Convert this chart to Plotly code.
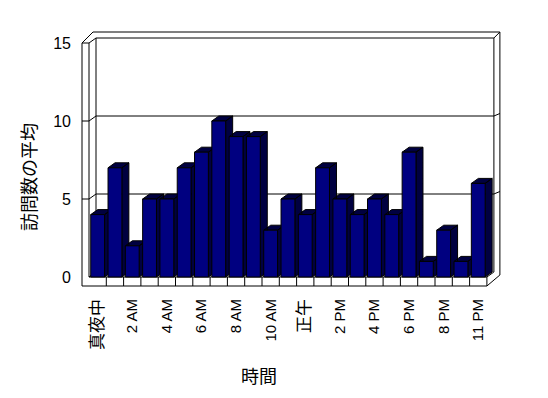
import plotly.graph_objects as go

# ---------------- data ----------------
hours = ["真夜中", "1 AM", "2 AM", "3 AM", "4 AM", "5 AM", "6 AM", "7 AM", "8 AM",
         "9 AM", "10 AM", "11 AM", "正午", "1 PM", "2 PM", "3 PM", "4 PM", "5 PM",
         "6 PM", "7 PM", "8 PM", "9 PM", "11 PM"]
visits = [4, 7, 2, 5, 5, 7, 8, 10, 9, 9, 3, 5, 4, 7, 5, 4, 5, 4, 8, 1, 3, 1, 6]
y_ticks = [0, 5, 10, 15]
x_title = "時間"
y_title = "訪問数の平均"

# ---------------- layout geometry ----------------
PAGE = 8                      # default body margin of the html page
W, H = 548 - PAGE, 398 - PAGE
L, T = 78 - PAGE, 28 - PAGE
plot_w, plot_h = 427, 262
R, B = W - L - plot_w, H - T - plot_h
PX_X = 17.3   # pixels per category
PX_Y = 15.6   # pixels per value unit
x_lo = -0.5 - 11 / PX_X
x_hi = x_lo + plot_w / PX_X
y_lo = -13 / PX_Y
y_hi = y_lo + plot_h / PX_Y

n = len(visits)
X0, X1 = -0.5, n - 0.5
Y0, Y1 = 0, y_ticks[-1]
DX, DY = 7 / PX_X, 5 / PX_Y          # depth offset
WX = 7 / PX_X                         # left wall thickness
FY = 9 / PX_Y                         # floor thickness
TX, TY = 6 / PX_X, 6 / PX_Y           # back wall thickness
BW = 0.8                              # bar width

FRONT = "#000080"
DEPTH = "#000040"

fig = go.Figure()

# ---------------- bars (3D look) ----------------
dx_, dy_ = [], []
fx, fy = [], []
for i, v in enumerate(visits):
    l, r = i - BW / 2, i + BW / 2
    dx_ += [r, r + DX, r + DX, r, r, None]
    dy_ += [0, DY, v + DY, v, 0, None]
    dx_ += [l, r, r + DX, l + DX, l, None]
    dy_ += [v, v, v + DY, v + DY, v, None]
    fx += [l, r, r, l, l, None]
    fy += [0, 0, v, v, 0, None]

fig.add_trace(go.Scatter(x=dx_, y=dy_, mode="lines", fill="toself",
                         fillcolor=DEPTH, line=dict(color="black", width=1),
                         hoverinfo="skip", showlegend=False))
fig.add_trace(go.Scatter(x=fx, y=fy, mode="lines", fill="toself",
                         fillcolor=FRONT, line=dict(color="black", width=1),
                         hoverinfo="skip", showlegend=False))

# ---------------- walls / floor ----------------
def P(pts):
    return "M " + " L ".join(f"{x},{y}" for x, y in pts)

shapes = []
line = dict(color="black", width=1)
outer = [(X0 - WX, Y0 - FY), (X0 - WX, Y1), (X0 - WX + 11 / PX_X, Y1 + DY + TY),
         (X1 + DX + TX, Y1 + DY + TY), (X1 + DX + TX, Y0 + 2 / PX_Y), (X1, Y0 - FY)]
shapes.append(dict(type="path", path=P(outer) + " Z", xref="x", yref="y",
                   fillcolor="white", line=line, layer="below"))
shapes.append(dict(type="path", path=P([(X0 + DX, Y0 + DY), (X0 + DX, Y1 + DY),
                                         (X1 + DX, Y1 + DY), (X1 + DX, Y0 + DY)]),
                   xref="x", yref="y", line=line, layer="below"))
shapes.append(dict(type="path", path=P([(X0, Y0), (X0, Y1), (X0 - WX, Y1)]),
                   xref="x", yref="y", line=line, layer="below"))
shapes.append(dict(type="path", path=P([(X0, Y1), (X0 + DX, Y1 + DY)]),
                   xref="x", yref="y", line=line, layer="below"))
shapes.append(dict(type="path", path=P([(X1 + DX, Y1 + DY), (X1 + DX + TX, Y1 + DY + TY)]),
                   xref="x", yref="y", line=line, layer="below"))
shapes.append(dict(type="path", path=P([(X0, Y0), (X0 + DX, Y0 + DY)]),
                   xref="x", yref="y", line=line, layer="below"))
shapes.append(dict(type="path", path=P([(X0, Y0), (X1, Y0), (X1, Y0 - FY)]),
                   xref="x", yref="y", line=line, layer="below"))
shapes.append(dict(type="path", path=P([(X1, Y0), (X1 + DX, Y0 + DY)]),
                   xref="x", yref="y", line=line, layer="below"))
for k in range(1, n):
    shapes.append(dict(type="line", x0=k - 0.5, x1=k - 0.5, y0=Y0 - FY, y1=Y0,
                       xref="x", yref="y", line=line, layer="below"))
for v in y_ticks[1:-1]:
    shapes.append(dict(type="path",
                       path=P([(X0 - WX, v), (X0, v), (X0 + DX, v + DY), (X1 + DX, v + DY),
                               (X1 + DX + TX, v + DY + 2.5 / PX_Y)]),
                       xref="x", yref="y", line=line, layer="below"))

# ---------------- ticks / titles ----------------
def lab(s):
    if any(ord(c) > 0x2E80 for c in s):
        return f'<span style="font-size:17px">{s}</span>'
    return s

tickvals = list(range(0, n, 2))
ticktext = [lab(hours[i]) for i in tickvals]

FONT = "Liberation Sans, Noto Sans CJK JP, sans-serif"
fig.update_layout(
    template="none",
    width=W, height=H,
    margin=dict(l=L, r=R, t=T, b=B, pad=0, autoexpand=False),
    paper_bgcolor="white", plot_bgcolor="white",
    shapes=shapes,
    font=dict(family=FONT, color="black"),
    xaxis=dict(range=[x_lo, x_hi], showgrid=False, zeroline=False, showline=False,
               automargin=False,
               tickmode="array", tickvals=tickvals, ticktext=ticktext,
               tickangle=-90, tickfont=dict(size=15, family=FONT), ticks="",
               ticklabelstandoff=5),
    yaxis=dict(range=[y_lo, y_hi], showgrid=False, zeroline=False, showline=False,
               automargin=False,
               tickmode="array", tickvals=y_ticks, ticktext=[str(v) for v in y_ticks],
               tickfont=dict(size=16, family=FONT), ticks="", ticklabelstandoff=6),
    annotations=[
        dict(text=y_title, xref="paper", yref="paper",
             x=(28 - 78) / plot_w, y=(290 - 177) / plot_h,
             textangle=-90, showarrow=False, xanchor="center", yanchor="middle",
             font=dict(size=18, family="Noto Sans CJK JP")),
        dict(text=x_title, xref="paper", yref="paper",
             x=(259 - 78) / plot_w, y=(290 - 375) / plot_h,
             showarrow=False, xanchor="center", yanchor="middle",
             font=dict(size=18, family="Noto Sans CJK JP")),
    ],
)

fig.write_html("out.html")
